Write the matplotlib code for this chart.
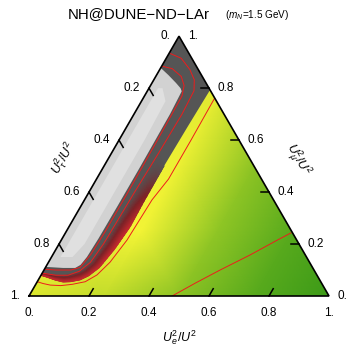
import numpy as np
import matplotlib
matplotlib.use("Agg")
import matplotlib.pyplot as plt
import matplotlib.tri as mtri
from matplotlib.colors import LinearSegmentedColormap
from matplotlib.patches import Polygon

plt.rcParams['font.family'] = ['Liberation Sans', 'DejaVu Sans']
plt.rcParams['mathtext.fontset'] = 'custom'
plt.rcParams['mathtext.rm'] = 'Liberation Sans'
plt.rcParams['mathtext.it'] = 'Liberation Sans:italic'

# ternary coords: e = U_e^2/U^2, mu = U_mu^2/U^2 (tau = 1 - e - mu)
# background yellow->green level on a coarse ternary grid
bg_e     = [0, .25, .5, .75, 1, 0, .25, .5, .75, 0, .25, .5, 0, .25, 0]
bg_mu    = [0, 0, 0, 0, 0, .25, .25, .25, .25, .5, .5, .5, .75, .75, 1]
bg_green = [.25, .38, .62, .85, 1.0, .0, .05, .60, .85, .0, .10, .62, .1, .2, .1]

# edge of the dark (excluded) region, right edge -> around the bottom -> left edge
dark_e  = [0.207, 0.203, 0.200, 0.201, 0.204, 0.195, 0.180, 0.160, 0.139, 0.110, 0.086, 0.055, 0.026, 0.0]
dark_mu = [0.793, 0.650, 0.500, 0.360, 0.266, 0.180, 0.110, 0.078, 0.062, 0.055, 0.054, 0.062, 0.072, 0.080]

# red band (paired inner / outer edges) and how red it gets along the band
band_in_e   = [0.157, 0.152, 0.150, 0.148, 0.140, 0.130, 0.120, 0.100, 0.080, 0.050, 0.025, 0.0]
band_in_mu  = [0.550, 0.400, 0.290, 0.200, 0.130, 0.105, 0.095, 0.085, 0.080, 0.080, 0.083, 0.088]
band_out_e  = [0.200, 0.201, 0.204, 0.195, 0.180, 0.160, 0.139, 0.110, 0.086, 0.055, 0.026, 0.0]
band_out_mu = [0.500, 0.360, 0.266, 0.180, 0.110, 0.078, 0.062, 0.055, 0.054, 0.062, 0.072, 0.080]
band_red    = [0.0, 0.6, 1.0, 1.0, 1.0, 1.0, 1.0, 1.0, 1.0, 1.0, 1.0, 1.0]

# light gray region along the tau edge
gray_e  = [0.0, 0.04, 0.08, 0.105, 0.115, 0.120, 0.122, 0.122, 0.121, 0.118, 0.112, 0.100, 0.060, 0.0]
gray_mu = [0.878, 0.85, 0.82, 0.80, 0.788, 0.700, 0.500, 0.350, 0.220, 0.150, 0.120, 0.108, 0.108, 0.112]
light_e  = [0.03, 0.045, 0.08, 0.085, 0.085, 0.07, 0.03]
light_mu = [0.80, 0.80, 0.75, 0.60, 0.20, 0.15, 0.15]

# red contour lines
cA_e  = [0.0, 0.04, 0.085, 0.112, 0.125, 0.128, 0.130, 0.130, 0.126, 0.115, 0.090, 0.040, 0.0]
cA_mu = [0.885, 0.875, 0.845, 0.810, 0.770, 0.600, 0.400, 0.250, 0.160, 0.110, 0.100, 0.100, 0.103]
cB_e  = [0.0, 0.05, 0.10, 0.135, 0.155, 0.160, 0.157, 0.152, 0.150, 0.148, 0.140, 0.120, 0.090, 0.050, 0.0]
cB_mu = [0.935, 0.915, 0.872, 0.832, 0.790, 0.700, 0.550, 0.400, 0.290, 0.200, 0.130, 0.095, 0.080, 0.080, 0.088]
cC_e  = [0.238, 0.240, 0.240, 0.225, 0.219, 0.205, 0.186, 0.160, 0.122, 0.086, 0.050, 0.023, 0.0]
cC_mu = [0.762, 0.600, 0.450, 0.370, 0.215, 0.130, 0.081, 0.055, 0.045, 0.040, 0.042, 0.048, 0.055]
cD_e  = [0.477, 0.530, 0.587, 0.658, 0.720, 0.752]
cD_mu = [0.000, 0.050, 0.100, 0.158, 0.215, 0.243]

ticks = [0.2, 0.4, 0.6, 0.8]
tick_labels = ['0.', '0.2', '0.4', '0.6', '0.8', '1.']

S3 = np.sqrt(3) / 2


def tern(e, mu):
    e = np.asarray(e, float)
    mu = np.asarray(mu, float)
    return e + mu / 2, mu * S3


fig = plt.figure(figsize=(3.5, 3.46), dpi=100)
ax = fig.add_axes([0, 0, 1, 1])
ax.set_xlim(-29 / 300, 321 / 300)
ax.set_ylim(-50 / 300, 296 / 300)
ax.axis('off')

tri_x, tri_y = tern([0, 1, 0, 0], [0, 0, 1, 0])
clip = Polygon(np.column_stack([tri_x[:3], tri_y[:3]]), closed=True, transform=ax.transData)

green_cmap = LinearSegmentedColormap.from_list(
    'yg', [(0, '#f7f636'), (0.3, '#d6e42e'), (0.55, '#9ccb26'), (0.8, '#62b01f'), (1, '#3c9a18')])
red_cmap = LinearSegmentedColormap.from_list(
    'rd', [(0, '#555555'), (0.45, '#7e2227'), (1, '#c42a2e')])

bx, by = tern(bg_e, bg_mu)
tp = ax.tripcolor(mtri.Triangulation(bx, by), bg_green, shading='gouraud',
                  cmap=green_cmap, vmin=0, vmax=1)
tp.set_clip_path(clip)

dx, dy = tern(dark_e + [0.0], dark_mu + [1.0])
p = ax.add_patch(Polygon(np.column_stack([dx, dy]), closed=True, fc='#555555', ec='none'))
p.set_clip_path(clip)

# red band as a mesh between its inner and outer edges
k = np.arange(len(band_out_e))
s = np.linspace(0, len(band_out_e) - 1, 80)
t = np.linspace(0, 1, 14)[:, None]
ie, im = np.interp(s, k, band_in_e), np.interp(s, k, band_in_mu)
oe, om = np.interp(s, k, band_out_e), np.interp(s, k, band_out_mu)
X, Y = tern(ie + t * (oe - ie), im + t * (om - im))
V = t * np.interp(s, k, band_red)
pm = ax.pcolormesh(X, Y, V, shading='gouraud', cmap=red_cmap, vmin=0, vmax=1)
pm.set_clip_path(clip)

gx, gy = tern(gray_e, gray_mu)
p = ax.add_patch(Polygon(np.column_stack([gx, gy]), closed=True, fc='#d2d2d2', ec='none'))
p.set_clip_path(clip)
lx, ly = tern(light_e, light_mu)
p = ax.add_patch(Polygon(np.column_stack([lx, ly]), closed=True, fc='#e0e0e0', ec='none'))
p.set_clip_path(clip)

for ce, cm in [(cA_e, cA_mu), (cB_e, cB_mu), (cC_e, cC_mu), (cD_e, cD_mu)]:
    cx, cy = tern(ce, cm)
    ln, = ax.plot(cx, cy, color='#ee1c1c', lw=0.7)
    ln.set_clip_path(clip)

ax.plot(tri_x, tri_y, color='black', lw=1.2, solid_joinstyle='miter')

L = 0.028
for v in ticks:
    x0, y0 = tern(v, 0)
    ax.plot([x0, x0 + L * 0.5], [y0, y0 + L * S3], color='black', lw=1.1)
    x0, y0 = tern(1 - v, v)
    ax.plot([x0, x0 - L], [y0, y0], color='black', lw=1.1)
    x0, y0 = tern(0, 1 - v)
    ax.plot([x0, x0 + L * 0.5], [y0, y0 - L * S3], color='black', lw=1.1)

vals = [0, 0.2, 0.4, 0.6, 0.8, 1.0]
for v, lab in zip(vals, tick_labels):
    x0, y0 = tern(v, 0)
    ax.text(x0, y0 - 0.057, lab, ha='center', va='center', fontsize=8.5)
    x0, y0 = tern(1 - v, v)
    ax.text(x0 + 0.03, y0, lab, ha='left', va='center', fontsize=8.5)
    x0, y0 = tern(0, 1 - v)
    ax.text(x0 - 0.03, y0, lab, ha='right', va='center', fontsize=8.5)

ax.text(0.5, -0.138, r'$U_e^2/U^2$', ha='center', va='center', fontsize=9)
ax.text(0.897, 0.453, r'$U_\mu^2/U^2$', ha='center', va='center', fontsize=9, rotation=-60)
ax.text(0.115, 0.46, r'$U_\tau^2/U^2$', ha='center', va='center', fontsize=9, rotation=60)

ax.text(0.365, 0.927, 'NH@DUNE\u2212ND\u2212LAr', ha='center', va='baseline', fontsize=10.8)
ax.text(0.653, 0.927, r'($m_N$=1.5 GeV)', ha='left', va='baseline', fontsize=7.2)

fig.savefig('out.png', dpi=100)
